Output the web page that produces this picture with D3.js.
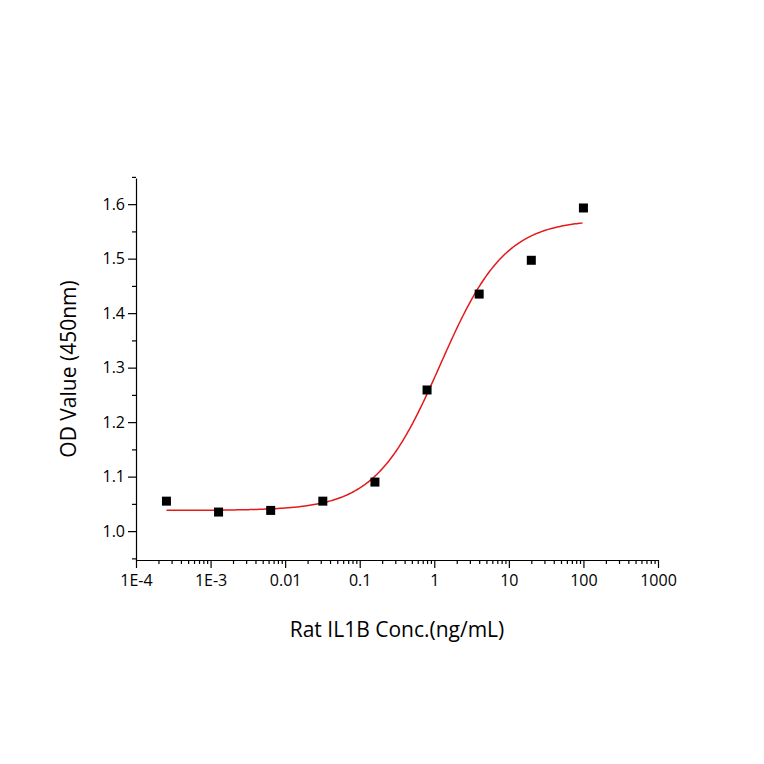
<!DOCTYPE html>
<html><head><meta charset="utf-8">
<script src="https://cdn.jsdelivr.net/npm/d3@7"></script>
<style>body{margin:0;background:#fff}text{font-family:"Open Sans",sans-serif}</style>
</head><body>
<script>
const conc = [0.000256, 0.00128, 0.0064, 0.032, 0.16, 0.8, 4, 20, 100];
const od = [1.055, 1.035, 1.038, 1.055, 1.090, 1.259, 1.435, 1.497, 1.593];
const fit = {bottom: 1.038, top: 1.572, ec50: 1.2, hill: 1.0};
const xTickLabels = ['1E-4', '1E-3', '0.01', '0.1', '1', '10', '100', '1000'];
const yTicks = [1.0, 1.1, 1.2, 1.3, 1.4, 1.5, 1.6];

const svg = d3.select('body').append('svg').attr('width', 764).attr('height', 764);
const x = d3.scaleLog().domain([1e-4, 1000]).range([136, 658]);
const y = d3.scaleLinear().domain([0.947, 1.648]).range([560, 178]);

// x axis
const xMinor = [];
for (let e = -4; e < 3; e++) for (let m = 2; m <= 9; m++) xMinor.push(m * Math.pow(10, e));
svg.append('g').attr('transform', 'translate(0,560)')
  .call(d3.axisBottom(x).tickValues(xMinor).tickSize(4).tickFormat(''))
  .call(g => g.select('.domain').remove());
svg.append('g').attr('transform', 'translate(0,560)')
  .call(d3.axisBottom(x).tickValues(xTickLabels.map(Number)).tickSize(8).tickSizeOuter(0)
    .tickFormat((d, i) => xTickLabels[i]))
  .call(g => g.selectAll('text').attr('font-size', 16).attr('dy', '0.95em').attr('fill', '#000'));

// y axis
svg.append('g').attr('transform', 'translate(136,0)')
  .call(d3.axisLeft(y).tickValues(d3.range(0.95, 1.66, 0.1)).tickSize(4).tickFormat(''))
  .call(g => g.select('.domain').remove());
svg.append('g').attr('transform', 'translate(136,0)')
  .call(d3.axisLeft(y).tickValues(yTicks).tickSize(8).tickSizeOuter(0).tickFormat(d3.format('.1f')))
  .call(g => g.selectAll('text').attr('font-size', 16).attr('fill', '#000'));
svg.selectAll('.domain, .tick line').attr('stroke', '#000').attr('stroke-width', 1.2);

// fit curve
const f = c => fit.bottom + (fit.top - fit.bottom) / (1 + Math.pow(fit.ec50 / c, fit.hill));
const xs = d3.range(Math.log10(conc[0]), Math.log10(100) + 0.001, 0.02).map(v => Math.pow(10, v));
svg.append('path').datum(xs)
  .attr('d', d3.line().x(c => x(c)).y(c => y(f(c))))
  .attr('fill', 'none').attr('stroke', '#e31a1c').attr('stroke-width', 1.5);

// points
svg.selectAll('rect.pt').data(conc).enter().append('rect').attr('class', 'pt')
  .attr('x', (c) => x(c) - 4.5).attr('y', (c, i) => y(od[i]) - 4.5)
  .attr('width', 9).attr('height', 9).attr('fill', '#000');

// titles
svg.append('text').attr('x', 397).attr('y', 637).attr('text-anchor', 'middle')
  .attr('font-size', 21).text('Rat IL1B Conc.(ng/mL)');
svg.append('text').attr('transform', 'translate(76,369) rotate(-90)').attr('text-anchor', 'middle')
  .attr('font-size', 21).text('OD Value (450nm)');
</script>
</body></html>
